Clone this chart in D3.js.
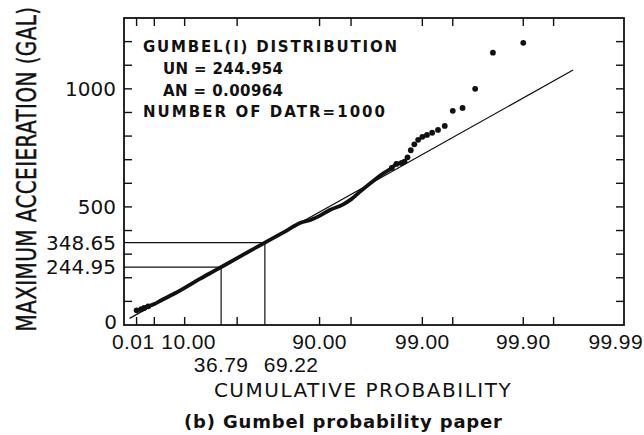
<!DOCTYPE html>
<html>
<head>
<meta charset="utf-8">
<script src="https://cdn.jsdelivr.net/npm/d3@7"></script>
<style>
  html, body { margin: 0; padding: 0; background: #fff; }
  svg { display: block; }
  text { font-family: "DejaVu Sans", sans-serif; fill: #111; }
</style>
</head>
<body>
<svg id="chart" width="644" height="435"></svg>
<script>
// ---- data ----
const UN = 244.954;
const AN = 0.00964;
const probPct = [0.1, 0.2, 0.3, 0.5, 1, 2, 5, 10, 20, 30, 40, 50, 60, 70, 80, 85, 88, 90, 92, 94, 95, 96, 97, 97.5, 98, 98.2, 98.4, 98.5, 98.6, 98.7, 98.8, 98.9, 99.0, 99.1, 99.2, 99.3, 99.4, 99.5, 99.6, 99.7, 99.8, 99.9];
const accel   = [62, 67, 72, 79, 89, 105, 130, 157, 196, 226, 254, 283, 315, 352, 400, 433, 446, 462, 487, 510, 532, 568, 612, 638, 665, 682, 686, 692, 710, 740, 765, 784, 797, 805, 814, 826, 843, 907, 919, 1000, 1153, 1195];
const fitPct = [0.03, 99.968];
const refPct = [36.79, 69.22];
const refValues = [244.95, 348.65];
const xTickPct = [0.1, 1, 10, 50, 90, 95, 99, 99.5, 99.9, 99.95];
const xLabelPct = [0.01, 10, 36.79, 69.22, 90, 99, 99.9, 99.99];
const xLabelText = ["0.01", "10.00", "36.79", "69.22", "90.00", "99.00", "99.90", "99.99"];
const xLabelRow = [0, 0, 1, 1, 0, 0, 0, 0];
const yTicks = [100, 200, 300, 400, 500, 600, 700, 800, 900, 1000, 1100, 1200];
const yLabelValues = [0, 244.95, 348.65, 500, 1000];
const yLabelText = ["0", "244.95", "348.65", "500", "1000"];
const infoLines = ["GUMBEL(I) DISTRIBUTION", "UN = 244.954", "AN = 0.00964", "NUMBER OF DATR=1000"];

// ---- scales ----
const gumbel = p => -Math.log(-Math.log(p / 100));
const L = 124, R = 624, T = 18, B = 325;
const x = d3.scaleLinear().domain([gumbel(0.01), gumbel(99.99)]).range([L, R]);
const y = d3.scaleLinear().domain([0, 1300]).range([B, T]);
const xp = p => x(gumbel(p));

const svg = d3.select("#chart");
const ink = "#111";

// frame
svg.append("rect").attr("x", L).attr("y", T).attr("width", R - L).attr("height", B - T)
  .attr("fill", "none").attr("stroke", ink).attr("stroke-width", 1.8);

// x ticks (bottom and top, inward)
const tickLen = 8;
xTickPct.forEach(p => {
  svg.append("line").attr("x1", xp(p)).attr("x2", xp(p)).attr("y1", B).attr("y2", B - tickLen)
    .attr("stroke", ink).attr("stroke-width", 1.4);
  svg.append("line").attr("x1", xp(p)).attr("x2", xp(p)).attr("y1", T).attr("y2", T + tickLen)
    .attr("stroke", ink).attr("stroke-width", 1.4);
});
// y ticks (left and right, inward)
yTicks.forEach(v => {
  svg.append("line").attr("x1", L).attr("x2", L + tickLen).attr("y1", y(v)).attr("y2", y(v))
    .attr("stroke", ink).attr("stroke-width", 1.4);
  svg.append("line").attr("x1", R).attr("x2", R - tickLen).attr("y1", y(v)).attr("y2", y(v))
    .attr("stroke", ink).attr("stroke-width", 1.4);
});

// x tick labels
const rowBase = [349, 372];
xLabelPct.forEach((p, i) => {
  let px = xp(p), anchor = "middle";
  if (i === 0) { px = px - 12; anchor = "start"; }
  else if (i === xLabelPct.length - 1) { px = px + 19; anchor = "end"; }
  else if (i === 1) { px = px + 4; }
  else if (xLabelRow[i] === 1 && i === 3) { px = px - 1; anchor = "start"; }
  svg.append("text").attr("x", px).attr("y", rowBase[xLabelRow[i]])
    .attr("text-anchor", anchor).attr("font-size", 21)
    .style("font-family", "'Liberation Sans', sans-serif")
    .attr("letter-spacing", 0.4).text(xLabelText[i]);
});

// y tick labels
yLabelValues.forEach((v, i) => {
  const base = v === 0 ? y(v) + 4 : y(v) + 7;
  svg.append("text").attr("x", v === 0 ? 117 : 116).attr("y", base)
    .attr("text-anchor", "end").attr("font-size", 20).text(yLabelText[i]);
});

// axis titles
svg.append("text").attr("x", 363).attr("y", 397).attr("text-anchor", "middle")
  .attr("font-size", 20).attr("letter-spacing", 1.5).text("CUMULATIVE PROBABILITY");
svg.append("text").attr("transform", "translate(36,169) rotate(-90) scale(1,1.3)")
  .attr("text-anchor", "middle").attr("font-size", 20).attr("letter-spacing", 0.4)
  .style("stroke", "#111").style("stroke-width", 0.35)
  .text("MAXIMUM ACCEIERATION (GAL)");
svg.append("text").attr("x", 343).attr("y", 428).attr("text-anchor", "middle")
  .attr("font-size", 18).attr("font-weight", "bold")
  .attr("textLength", 318).attr("lengthAdjust", "spacing")
  .text("(b) Gumbel probability paper");

// info block
const infoX = [143, 163, 163, 143];
const infoY = [52, 74, 96, 117];
const infoW = [254, 120, 120, 242];
infoLines.forEach((t, i) => {
  svg.append("text").attr("x", infoX[i]).attr("y", infoY[i]).attr("font-size", 15)
    .attr("font-weight", "bold")
    .attr("textLength", infoW[i]).attr("lengthAdjust", "spacing").text(t);
});

// reference lines at 36.79% and 69.22%
refPct.forEach((p, i) => {
  svg.append("line").attr("x1", L).attr("x2", xp(p)).attr("y1", y(refValues[i])).attr("y2", y(refValues[i]))
    .attr("stroke", ink).attr("stroke-width", 1.2);
  svg.append("line").attr("x1", xp(p)).attr("x2", xp(p)).attr("y1", y(refValues[i])).attr("y2", B)
    .attr("stroke", ink).attr("stroke-width", 1.2);
});

// fitted Gumbel line
const fitPts = fitPct.map(p => [xp(p), y(UN + gumbel(p) / AN)]);
svg.append("path").attr("d", d3.line()(fitPts)).attr("fill", "none")
  .attr("stroke", ink).attr("stroke-width", 1.3);

// data band (dense part) and dots
const pts = probPct.map((p, i) => ({ p, v: accel[i] }));
const dense = pts.filter(d => d.p <= 98.5);
svg.append("path")
  .attr("d", d3.line().x(d => xp(d.p)).y(d => y(d.v)).curve(d3.curveMonotoneX)(dense))
  .attr("fill", "none").attr("stroke", ink).attr("stroke-width", 3.8).attr("stroke-linejoin", "round");
svg.selectAll("circle.pt").data(pts.filter(d => d.p < 1 || d.p >= 98)).enter().append("circle")
  .attr("class", "pt").attr("cx", d => xp(d.p)).attr("cy", d => y(d.v)).attr("r", 2.9).attr("fill", ink);
</script>
</body>
</html>
